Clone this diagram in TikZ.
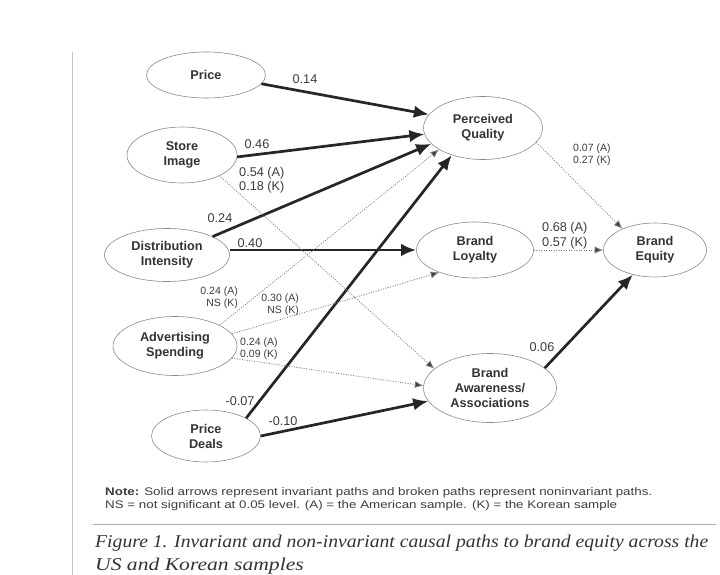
\documentclass[tikz,border=0pt]{standalone}
\usepackage{fontspec}
\usepackage{graphicx}
\setmainfont{Liberation Sans}
\newfontfamily\capfont{Liberation Serif}
\usetikzlibrary{arrows.meta,shapes.geometric}

\definecolor{inkdark}{HTML}{333333}
\definecolor{inklabel}{HTML}{3C3C3C}
\definecolor{rimgray}{HTML}{8A8A8A}
\definecolor{dotgray}{HTML}{7A7A7A}

\tikzset{
  construct/.style={ellipse, draw=rimgray, line width=0.6pt, inner sep=0pt,
    align=center, text=inkdark,
    font=\bfseries\fontsize{12.7}{15}\selectfont},
  invariant/.style={line width=2.7pt, draw=black!85,
    -{Latex[length=15pt,width=12.5pt]}},
  noninvariant/.style={line width=0.8pt, draw=dotgray,
    dash pattern=on 1pt off 1.5pt,
    -{Latex[length=8.5pt,width=7pt,fill=black!75]}},
  coef/.style={inner sep=0pt, text=inklabel, font=\fontsize{12.7}{14}\selectfont},
  coefsmall/.style={inner sep=0pt, text=inklabel, font=\fontsize{10.5}{12}\selectfont},
}

\begin{document}
\begin{tikzpicture}[x=1pt,y=-1pt]
\useasboundingbox (0,0) rectangle (720,575);

% page frame rules
\draw[gray!45, line width=0.6pt] (72,52) -- (72,575);
\draw[gray!65, line width=0.6pt] (93,524) -- (716,524);

% constructs
\node[construct, minimum width=119pt, minimum height=46pt] (price)  at (206,75)  {Price};
\node[construct, minimum width=110pt, minimum height=56pt] (store)  at (182,155) {Store\\Image};
\node[construct, minimum width=125pt, minimum height=53pt] (dist)   at (167,255) {Distribution\\Intensity};
\node[construct, minimum width=124pt, minimum height=59pt] (adv)    at (175,346) {Advertising\\Spending};
\node[construct, minimum width=109pt, minimum height=52pt] (deals)  at (206,436) {Price\\Deals};
\node[construct, minimum width=119pt, minimum height=63pt] (pq)     at (483,128) {Perceived\\Quality};
\node[construct, minimum width=117pt, minimum height=56pt] (loy)    at (475,250) {Brand\\Loyalty};
\node[construct, minimum width=133pt, minimum height=69pt] (aware)  at (490,388) {Brand\\Awareness/\\Associations};
\node[construct, minimum width=103pt, minimum height=54pt] (equity) at (655,250) {Brand\\Equity};

% invariant paths
\draw[invariant] (price.-9) -- (pq.166);
\draw[invariant] (store.-2) -- (pq.186);
\draw[invariant] (dist.22) -- (pq.197);
\draw[invariant] (dist.east |- loy.west) -- (loy.west);
\draw[invariant] (deals.24) -- (pq.221);
\draw[invariant] (deals.east) -- (aware.192);
\draw[invariant] (aware.20) -- (equity.228);

% noninvariant paths
\draw[noninvariant] (store.-29) -- (aware.161);
\draw[noninvariant] (pq.-15) -- (equity.147);
\draw[noninvariant] (loy.east) -- (equity.west);
\draw[noninvariant] (adv.25) -- (pq.206);
\draw[noninvariant] (adv.12) -- (loy.212);
\draw[noninvariant] (adv.-12) -- (aware.178);

% coefficients
\node[coef] (c1) at (305,79)  {0.14};
\node[coef] (c2) at (257,144) {0.46};
\node[coef] (c3) at (220,218) {0.24};
\node[coef] (c4) at (250,243) {0.40};
\node[coef] (c5) at (240,401) {-0.07};
\node[coef] (c6) at (283,421) {-0.10};
\node[coef] (c7) at (542,347) {0.06};
\node[coef, anchor=west, align=left] (c8) at (239,180) {0.54 (A)\\0.18 (K)};
\node[coef, anchor=west, align=left, font=\fontsize{12.7}{15}\selectfont] (c9) at (542,235.5) {0.68 (A)\\0.57 (K)};
\node[coefsmall, anchor=west, align=left] (c10) at (573,155) {0.07 (A)\\0.27 (K)};
\node[coefsmall, anchor=east, align=right] (c11) at (238,297.5) {0.24 (A)\\NS (K)};
\node[coefsmall, anchor=east, align=right] (c12) at (299,305) {0.30 (A)\\NS (K)};
\node[coefsmall, anchor=west, align=left] (c13) at (240,349) {0.24 (A)\\0.09 (K)};

% note
\node[inner sep=0pt, anchor=west, text=inklabel, font=\fontsize{11}{13}\selectfont] (note1) at (105,493)
  {\resizebox{547pt}{\height}{\textbf{Note:} Solid arrows represent invariant paths and broken paths represent noninvariant paths.}};
\node[inner sep=0pt, anchor=west, text=inklabel, font=\fontsize{11}{13}\selectfont] (note2) at (105,506)
  {\resizebox{512pt}{\height}{NS = not significant at 0.05 level. (A) = the American sample. (K) = the Korean sample}};

% caption
\node[inner sep=0pt, anchor=west, text=black!80, font=\capfont\itshape\fontsize{18}{22}\selectfont] (cap1) at (95,543)
  {\resizebox{613pt}{\height}{Figure 1. Invariant and non-invariant causal paths to brand equity across the}};
\node[inner sep=0pt, anchor=west, text=black!80, font=\capfont\itshape\fontsize{18}{22}\selectfont] (cap2) at (95,566)
  {\scalebox{1.2}[1]{US and Korean samples}};
\end{tikzpicture}
\end{document}
